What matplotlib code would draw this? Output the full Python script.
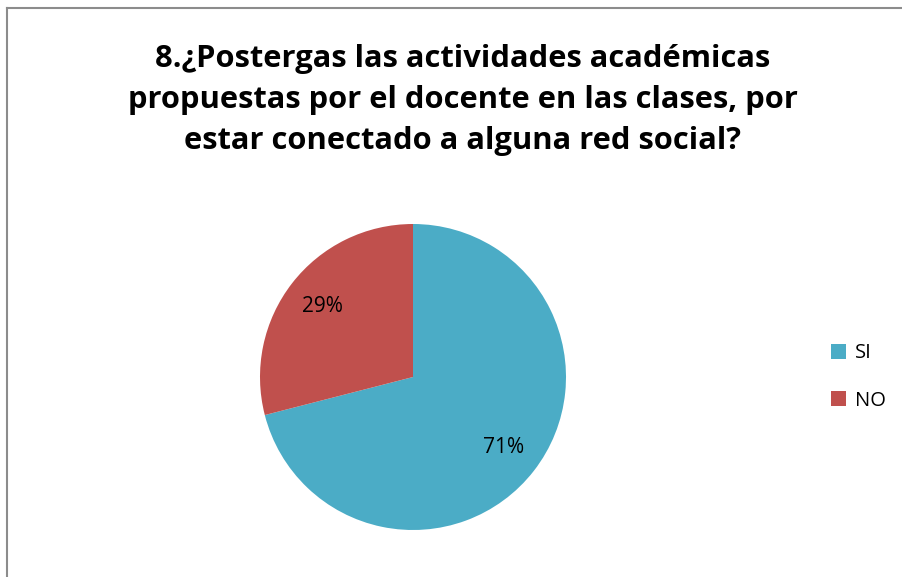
import matplotlib.pyplot as plt
from matplotlib.lines import Line2D

labels = ["SI", "NO"]
values = [71, 29]
colors = ["#4BACC6", "#C0504D"]
title = "8.¿Postergas las actividades académicas\npropuestas por el docente en las clases, por\nestar conectado a alguna red social?"

plt.rcParams['font.family'] = ['Open Sans', 'DejaVu Sans']

W, H = 902, 577
fig = plt.figure(figsize=(W / 100, H / 100), dpi=100)

# pie axes: centre (413, 377) px, radius 153 px
ax = fig.add_axes([260 / W, (H - 530) / H, 306 / W, 306 / H])
wedges, texts, autotexts = ax.pie(values, colors=colors, startangle=90, counterclock=False,
                                  autopct="%d%%", pctdistance=0.75, radius=1,
                                  textprops=dict(fontsize=15, color="black"))
ax.set_xlim(-1, 1)
ax.set_ylim(-1, 1)
ax.set_aspect("equal")

fig.text(463 / W, 1 - 100 / H, title, ha="center", va="center", fontsize=22.2,
         fontweight="bold", linespacing=1.5)

# chart border (top and left only)
fig.add_artist(Line2D([7 / W, 7 / W], [0, 1 - 7.5 / H], color="#8c8c8c", lw=1.5))
fig.add_artist(Line2D([7 / W, 1], [1 - 7.5 / H, 1 - 7.5 / H], color="#8c8c8c", lw=1.5))

leg = fig.legend(wedges, labels, loc="center left", bbox_to_anchor=(813 / W, 1 - 377 / H),
                 frameon=False, fontsize=14.5, handlelength=0.75, handleheight=0.75,
                 handletextpad=0.45, labelspacing=1.35)

fig.savefig("out.png", dpi=100)
